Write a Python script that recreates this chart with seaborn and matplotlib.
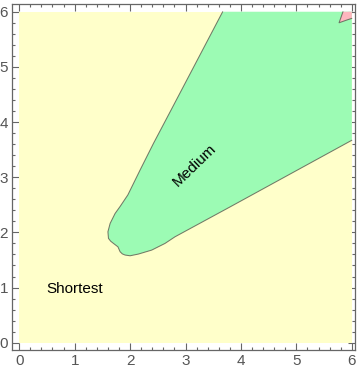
import numpy as np
import pandas as pd
import matplotlib
matplotlib.use("Agg")
import matplotlib.pyplot as plt
from matplotlib.ticker import MultipleLocator
import seaborn as sns

# plot range of the region plot
range_x = [0, 6]
range_y = [0, 6]

# boundary between "Shortest" and "Medium"
medium_x = [3.67, 2.74, 2.42, 2.18, 1.96, 1.82, 1.73, 1.64, 1.60, 1.61, 1.65, 1.70,
            1.78, 1.82, 1.86, 1.91, 2.00, 2.15, 2.39, 2.63, 2.81, 3.80, 6.0]
medium_y = [6.0, 4.22, 3.61, 3.13, 2.68, 2.47, 2.344, 2.163, 2.011, 1.891, 1.84, 1.80,
            1.739, 1.649, 1.61, 1.589, 1.576, 1.607, 1.679, 1.80, 1.92, 2.46, 3.67]

# small "Longest" corner at top right
longest_x = [5.84, 5.77, 5.91, 6.0]
longest_y = [6.0, 5.80, 5.85, 5.88]

labels = ["Shortest", "Medium"]
label_x = [1.0, 3.17]
label_y = [0.98, 3.21]
label_rot = [0, 44]

col_short = "#FFFFCA"
col_medium = "#9CFBB4"
col_long = "#FFB6BE"
edge_col = "#5a5a50"

sns.set_style("ticks")
plt.rcParams['font.family'] = ['Liberation Sans', 'DejaVu Sans']

fig = plt.figure(figsize=(3.6, 3.75), dpi=100)
ax = fig.add_axes([0.034, 0.0667, 0.951, 0.922])

# background region
ax.fill_between(range_x, range_y[0], range_y[1], color=col_short, lw=0)

# medium region: boundary + closing along the plot range edges
gx = medium_x + [range_x[1], medium_x[0]]
gy = medium_y + [range_y[1], range_y[1]]
ax.fill(gx, gy, color=col_medium, lw=0)

lx = longest_x + [range_x[1]]
ly = longest_y + [range_y[1]]
ax.fill(lx, ly, color=col_long, lw=0)

edges = pd.DataFrame({"x": medium_x, "y": medium_y})
sns.lineplot(data=edges, x="x", y="y", sort=False, estimator=None,
             color=edge_col, lw=0.75, alpha=0.8, ax=ax)
edges2 = pd.DataFrame({"x": longest_x, "y": longest_y})
sns.lineplot(data=edges2, x="x", y="y", sort=False, estimator=None,
             color=edge_col, lw=0.75, alpha=0.8, ax=ax)

for t, x, y, r in zip(labels, label_x, label_y, label_rot):
    ax.text(x, y, t, rotation=r, ha="center", va="center", fontsize=11,
            color="black", rotation_mode="anchor")

ax.set_xlim(-0.126, 6.05)
ax.set_ylim(-0.132, 6.136)
ax.set_xlabel("")
ax.set_ylabel("")
ax.xaxis.set_major_locator(MultipleLocator(1))
ax.yaxis.set_major_locator(MultipleLocator(1))
ax.xaxis.set_minor_locator(MultipleLocator(0.2))
ax.yaxis.set_minor_locator(MultipleLocator(0.2))
ax.tick_params(which="both", direction="in", top=True, right=True,
               color="#666666", width=0.8)
ax.tick_params(which="major", length=5, labelsize=11, labelcolor="#555555", pad=3)
ax.tick_params(which="minor", length=2.5)
for s in ax.spines.values():
    s.set_visible(True)
    s.set_color("#666666")
    s.set_linewidth(0.9)

fig.savefig("out.png", dpi=100)
